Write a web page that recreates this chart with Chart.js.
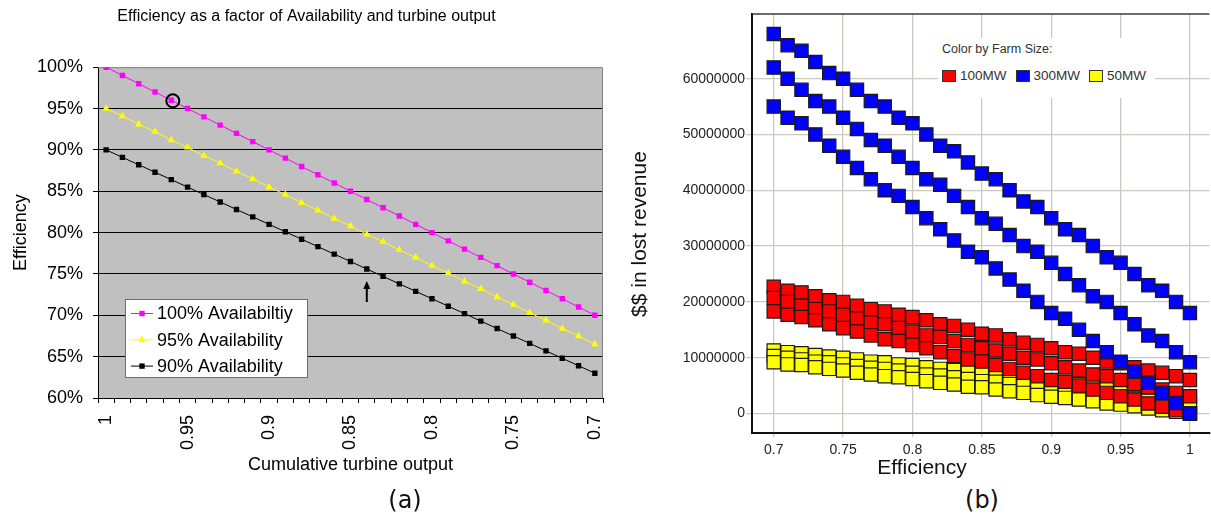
<!DOCTYPE html>
<html>
<head>
<meta charset="utf-8">
<title>Efficiency and lost revenue</title>
<script src="https://cdn.jsdelivr.net/npm/chart.js@4.4.1/dist/chart.umd.min.js"></script>
<style>
  html, body { margin: 0; padding: 0; background: #fff; }
  body { width: 1211px; height: 520px; position: relative; overflow: hidden; font-family: 'Liberation Sans', Arial, sans-serif; }
  #effChart { position: absolute; left: 0; top: 0; }
  #revChart { position: absolute; left: 600px; top: 0; }
  .panel-tag { position: absolute; top: 486px; font: 24px 'DejaVu Sans', sans-serif; line-height: 28px; color: #111; transform: translateX(-50%); }
  #sizeKey { position: absolute; left: 938px; top: 38px; width: 217px; height: 60px; background: #fff; color: #333; }
  #sizeKey .key-title { position: absolute; left: 4px; top: 4px; font-size: 12.5px; line-height: 14px; }
  #sizeKey .key-row { position: absolute; left: 4px; top: 31px; display: flex; align-items: center; font-size: 13.5px; line-height: 14px; }
  #sizeKey .key-item { display: flex; align-items: center; margin-right: 9px; }
  #sizeKey .key-swatch { width: 12px; height: 10px; border: 1px solid #333; margin-right: 4px; }
</style>
</head>
<body>
<canvas id="effChart" width="620" height="520"></canvas>
<canvas id="revChart" width="620" height="480"></canvas>
<div class="panel-tag" style="left:405px">(a)</div>
<div class="panel-tag" style="left:982px">(b)</div>
<div id="sizeKey">
  <div class="key-title">Color by Farm Size:</div>
  <div class="key-row" id="sizeKeyRow"></div>
</div>

<script>
// ---- (a) efficiency vs cumulative turbine output ----
const outputLevels = [1, 0.99, 0.98, 0.97, 0.96, 0.95, 0.94, 0.93, 0.92, 0.91, 0.9, 0.89, 0.88, 0.87, 0.86, 0.85,
  0.84, 0.83, 0.82, 0.81, 0.8, 0.79, 0.78, 0.77, 0.76, 0.75, 0.74, 0.73, 0.72, 0.71, 0.7];
const eff100 = [1.00, 0.99, 0.98, 0.97, 0.96, 0.95, 0.94, 0.93, 0.92, 0.91, 0.90, 0.89, 0.88, 0.87, 0.86, 0.85,
  0.84, 0.83, 0.82, 0.81, 0.80, 0.79, 0.78, 0.77, 0.76, 0.75, 0.74, 0.73, 0.72, 0.71, 0.70];
const eff95 = [0.950, 0.941, 0.931, 0.922, 0.912, 0.903, 0.893, 0.884, 0.874, 0.865, 0.855, 0.846, 0.836, 0.827, 0.817, 0.808,
  0.798, 0.789, 0.779, 0.770, 0.760, 0.751, 0.741, 0.732, 0.722, 0.713, 0.703, 0.694, 0.684, 0.675, 0.665];
const eff90 = [0.900, 0.891, 0.882, 0.873, 0.864, 0.855, 0.846, 0.837, 0.828, 0.819, 0.810, 0.801, 0.792, 0.783, 0.774, 0.765,
  0.756, 0.747, 0.738, 0.729, 0.720, 0.711, 0.702, 0.693, 0.684, 0.675, 0.666, 0.657, 0.648, 0.639, 0.630];

// ---- (b) lost revenue ($ millions) vs efficiency, three curves per farm size ----
const efficiency = [0.70, 0.71, 0.72, 0.73, 0.74, 0.75, 0.76, 0.77, 0.78, 0.79, 0.80, 0.81, 0.82, 0.83, 0.84, 0.85,
  0.86, 0.87, 0.88, 0.89, 0.90, 0.91, 0.92, 0.93, 0.94, 0.95, 0.96, 0.97, 0.98, 0.99, 1.00];
const lost300 = [
  [68, 66, 65, 63, 61, 60, 58, 56, 55, 53, 52, 50, 48, 47, 45, 43, 42, 40, 38, 37, 35, 33, 32, 30, 28, 27, 25, 23, 22, 20, 18],
  [62, 60, 58, 56, 55, 53, 51, 49, 48, 46, 44, 42, 41, 39, 37, 35, 34, 32, 30, 29, 27, 25, 23, 21, 20, 18, 16, 14, 13, 11, 9.2],
  [55, 53, 52, 50, 48, 46, 44, 42, 40, 39, 37, 35, 33, 31, 29, 28, 26, 24, 22, 20, 18, 17, 15, 13, 11, 9.3, 7.5, 5.5, 3.7, 1.9, 0]
];
const lost100 = [
  [22.7, 22.0, 21.7, 21.0, 20.3, 20.0, 19.3, 18.7, 18.3, 17.7, 17.3, 16.7, 16.0, 15.7, 15.0, 14.3, 14.0, 13.3, 12.7, 12.3, 11.7, 11.0, 10.7, 10.0, 9.3, 9.0, 8.3, 7.7, 7.3, 6.7, 6.0],
  [20.7, 20.0, 19.3, 18.7, 18.3, 17.7, 17.0, 16.3, 16.0, 15.3, 14.7, 14.0, 13.7, 13.0, 12.3, 11.7, 11.3, 10.7, 10.0, 9.7, 9.0, 8.3, 7.7, 7.0, 6.7, 6.0, 5.3, 4.7, 4.3, 3.7, 3.1],
  [18.3, 17.7, 17.3, 16.7, 16.0, 15.3, 14.7, 14.0, 13.3, 13.0, 12.3, 11.7, 11.0, 10.3, 9.7, 9.3, 8.7, 8.0, 7.3, 6.7, 6.0, 5.7, 5.0, 4.3, 3.7, 3.1, 2.5, 1.8, 1.2, 0.6, 0]
];
const lost50 = [
  [11.3, 11.0, 10.8, 10.5, 10.2, 10.0, 9.7, 9.3, 9.2, 8.8, 8.7, 8.3, 8.0, 7.8, 7.5, 7.2, 7.0, 6.7, 6.3, 6.2, 5.8, 5.5, 5.3, 5.0, 4.7, 4.5, 4.2, 3.8, 3.7, 3.3, 3.0],
  [10.3, 10.0, 9.7, 9.3, 9.2, 8.8, 8.5, 8.2, 8.0, 7.7, 7.3, 7.0, 6.8, 6.5, 6.2, 5.8, 5.7, 5.3, 5.0, 4.8, 4.5, 4.2, 3.8, 3.5, 3.3, 3.0, 2.7, 2.3, 2.2, 1.8, 1.5],
  [9.2, 8.8, 8.7, 8.3, 8.0, 7.7, 7.3, 7.0, 6.7, 6.5, 6.2, 5.8, 5.5, 5.2, 4.8, 4.7, 4.3, 4.0, 3.7, 3.3, 3.0, 2.8, 2.5, 2.2, 1.8, 1.6, 1.3, 0.9, 0.6, 0.3, 0.0]
];
const efficiencyTicks = [0.7, 0.75, 0.8, 0.85, 0.9, 0.95, 1];
const revenueTicks = [0, 10, 20, 30, 40, 50, 60];
const keyOrder = ['100MW', '300MW', '50MW'];

Chart.defaults.font.family = "'Liberation Sans', Arial, sans-serif";

// grey plot area behind the curves
const plotBackdrop = {
  id: 'plotBackdrop',
  beforeDraw(chart, args, opts) {
    const { ctx, chartArea: a } = chart;
    ctx.save();
    ctx.fillStyle = opts.color;
    ctx.fillRect(a.left, a.top, a.right - a.left, a.bottom - a.top);
    ctx.restore();
  }
};

// thin grey frame on the top and right sides
const plotFrame = {
  id: 'plotFrame',
  beforeDatasetsDraw(chart) {
    const { ctx, chartArea: a } = chart;
    ctx.save();
    ctx.strokeStyle = '#808080';
    ctx.lineWidth = 1;
    ctx.beginPath();
    ctx.moveTo(a.left, a.top + 0.5);
    ctx.lineTo(a.right - 0.5, a.top + 0.5);
    ctx.lineTo(a.right - 0.5, a.bottom);
    ctx.stroke();
    ctx.restore();
  }
};

function drawMarker(ctx, style, x, y, r, color) {
  ctx.fillStyle = color;
  ctx.beginPath();
  if (style === 'triangle') {
    ctx.moveTo(x, y - r);
    ctx.lineTo(x + r * 0.866, y + r * 0.5);
    ctx.lineTo(x - r * 0.866, y + r * 0.5);
    ctx.closePath();
  } else {
    const h = r * Math.SQRT1_2;
    ctx.rect(x - h, y - h, 2 * h, 2 * h);
  }
  ctx.fill();
}

// boxed legend sitting inside the plot, lower left
const availabilityKey = {
  id: 'availabilityKey',
  afterDatasetsDraw(chart) {
    const { ctx } = chart;
    const box = { x: 125.5, y: 299.5, w: 182, h: 78 };
    ctx.save();
    ctx.fillStyle = '#fff';
    ctx.fillRect(box.x, box.y, box.w, box.h);
    ctx.strokeStyle = '#6e6e6e';
    ctx.lineWidth = 1;
    ctx.strokeRect(box.x, box.y, box.w, box.h);
    ctx.font = "18px 'Liberation Sans', Arial, sans-serif";
    ctx.textBaseline = 'middle';
    chart.data.datasets.forEach((ds, i) => {
      const y = box.y + 14 + i * 26.3;
      ctx.strokeStyle = ds.borderColor;
      ctx.beginPath();
      ctx.moveTo(131, y);
      ctx.lineTo(153, y);
      ctx.stroke();
      drawMarker(ctx, ds.pointStyle, 142, y, ds.pointRadius, ds.backgroundColor);
      ctx.fillStyle = '#000';
      ctx.fillText(ds.label, 157, y + 1);
    });
    ctx.restore();
  }
};

// ring on the 0.96 point and the arrow under the 0.84 point
const callouts = {
  id: 'callouts',
  afterDatasetsDraw(chart) {
    const { ctx, scales: { x, y } } = chart;
    ctx.save();
    ctx.strokeStyle = '#000';
    ctx.fillStyle = '#000';
    ctx.lineWidth = 2;
    ctx.beginPath();
    ctx.arc(x.getPixelForValue(4) + 1.5, y.getPixelForValue(eff100[4]) + 0.5, 6.5, 0, Math.PI * 2);
    ctx.stroke();

    const ax = x.getPixelForValue(16);
    const ay = y.getPixelForValue(eff90[16]);
    ctx.beginPath();
    ctx.moveTo(ax, ay + 33);
    ctx.lineTo(ax, ay + 18);
    ctx.stroke();
    ctx.beginPath();
    ctx.moveTo(ax, ay + 12);
    ctx.lineTo(ax + 3.5, ay + 20);
    ctx.lineTo(ax - 3.5, ay + 20);
    ctx.closePath();
    ctx.fill();
    ctx.restore();
  }
};

new Chart(document.getElementById('effChart'), {
  type: 'line',
  data: {
    labels: outputLevels,
    datasets: [
      { label: '100% Availabiltiy', data: eff100, borderColor: '#ff00ff', backgroundColor: '#ff00ff', pointStyle: 'rect', pointRadius: 3.8 },
      { label: '95% Availability', data: eff95, borderColor: '#ffff00', backgroundColor: '#ffff00', pointStyle: 'triangle', pointRadius: 4.3 },
      { label: '90% Availability', data: eff90, borderColor: '#000000', backgroundColor: '#000000', pointStyle: 'rect', pointRadius: 3.8 }
    ]
  },
  options: {
    responsive: false,
    animation: false,
    layout: { padding: { left: 10, right: 17, top: 0, bottom: 40 } },
    elements: {
      line: { borderWidth: 1, tension: 0 },
      point: { borderWidth: 0 }
    },
    plugins: {
      legend: { display: false },
      tooltip: { enabled: false },
      title: {
        display: true,
        text: 'Efficiency as a factor of Availability and turbine output',
        color: '#000',
        font: { size: 16, weight: 'normal' },
        padding: { top: 7, bottom: 41 }
      },
      plotBackdrop: { color: '#c0c0c0' }
    },
    scales: {
      x: {
        offset: true,
        grid: { offset: true, drawOnChartArea: false, tickLength: 5, tickColor: '#000' },
        border: { color: '#000', width: 1 },
        ticks: {
          autoSkip: false,
          minRotation: 90,
          maxRotation: 90,
          padding: 12,
          color: '#000',
          font: { size: 18 },
          callback: (v, i) => (i % 5 === 0 ? String(outputLevels[i]) : '')
        },
        title: { display: true, text: 'Cumulative turbine output', color: '#000', font: { size: 18 }, padding: { top: 0, bottom: 4 } },
        afterFit: s => {
          s.height = 82;
          s.paddingLeft = 0;
          s.paddingRight = 0;
        }
      },
      y: {
        min: 0.6,
        max: 1.0,
        grid: {
          color: c => (c.tick && c.tick.value > 0.999 ? 'rgba(0,0,0,0)' : '#000'),
          tickLength: 5,
          tickColor: '#000'
        },
        border: { color: '#000', width: 1 },
        ticks: {
          stepSize: 0.05,
          padding: 10,
          color: '#000',
          font: { size: 18 },
          callback: v => Math.round(v * 100) + '%'
        },
        title: { display: true, text: 'Efficiency', color: '#000', font: { size: 18 }, padding: { top: 0, bottom: 0 } },
        afterFit: s => {
          s.width = 88;
          s.paddingTop = 0;
          s.paddingBottom = 0;
        }
      }
    }
  },
  plugins: [plotBackdrop, plotFrame, availabilityKey, callouts]
});

// ---- (b) ----
const farmSizes = [
  { name: '300MW', color: '#0000ff', lines: lost300 },
  { name: '100MW', color: '#ff0000', lines: lost100 },
  { name: '50MW', color: '#ffff00', lines: lost50 }
];

// dark rule along the top of the plot
const revenueFrame = {
  id: 'revenueFrame',
  beforeDatasetsDraw(chart) {
    const { ctx, chartArea: a } = chart;
    ctx.save();
    ctx.strokeStyle = '#3a3a3a';
    ctx.lineWidth = 1.5;
    ctx.beginPath();
    ctx.moveTo(a.left, a.top);
    ctx.lineTo(a.right, a.top);
    ctx.stroke();
    ctx.restore();
  }
};

const revenueTitles = {
  id: 'revenueTitles',
  afterDraw(chart) {
    const { ctx } = chart;
    ctx.save();
    ctx.fillStyle = '#111';
    ctx.font = "21px 'Liberation Sans', Arial, sans-serif";
    ctx.textAlign = 'center';
    ctx.textBaseline = 'middle';
    ctx.fillText('Efficiency', 322, 468);
    ctx.translate(40, 234);
    ctx.rotate(-Math.PI / 2);
    ctx.fillText('$$ in lost revenue', 0, 0);
    ctx.restore();
  }
};

new Chart(document.getElementById('revChart'), {
  type: 'scatter',
  data: {
    datasets: farmSizes.map(f => ({
      label: f.name,
      backgroundColor: f.color,
      data: f.lines.flatMap(line => line.map((v, i) => ({ x: efficiency[i], y: v })))
    }))
  },
  options: {
    responsive: false,
    animation: false,
    layout: { padding: { left: 0, right: 5, top: 14, bottom: 0 } },
    elements: { point: { pointStyle: 'rect', radius: 9.4, hoverRadius: 9.4, borderWidth: 1.2, borderColor: '#1a1a1a' } },
    plugins: { legend: { display: false }, tooltip: { enabled: false } },
    scales: {
      x: {
        type: 'linear',
        min: 0.68433,
        max: 1.01403,
        afterBuildTicks: s => { s.ticks = efficiencyTicks.map(v => ({ value: v })); },
        grid: { color: '#c9c9c2', lineWidth: 1.3, tickLength: 4 },
        border: { color: '#111', width: 2 },
        ticks: { padding: 5, color: '#222', font: { size: 14 }, callback: v => String(v) },
        afterFit: s => { s.height = 47; }
      },
      y: {
        min: -3.49,
        max: 71.59,
        afterBuildTicks: s => { s.ticks = revenueTicks.map(v => ({ value: v })); },
        grid: { color: '#c9c9c2', lineWidth: 1.3, tickLength: 6 },
        border: { color: '#111', width: 2 },
        ticks: { padding: 1, color: '#222', font: { size: 14 }, callback: v => String(v * 1000000) },
        afterFit: s => { s.width = 152; }
      }
    }
  },
  plugins: [revenueFrame, revenueTitles]
});

// farm size key
const keyRow = document.getElementById('sizeKeyRow');
keyOrder.forEach(name => {
  const f = farmSizes.find(s => s.name === name);
  const item = document.createElement('div');
  item.className = 'key-item';
  const sw = document.createElement('span');
  sw.className = 'key-swatch';
  sw.style.background = f.color;
  const txt = document.createElement('span');
  txt.textContent = f.name;
  item.appendChild(sw);
  item.appendChild(txt);
  keyRow.appendChild(item);
});
</script>
</body>
</html>
